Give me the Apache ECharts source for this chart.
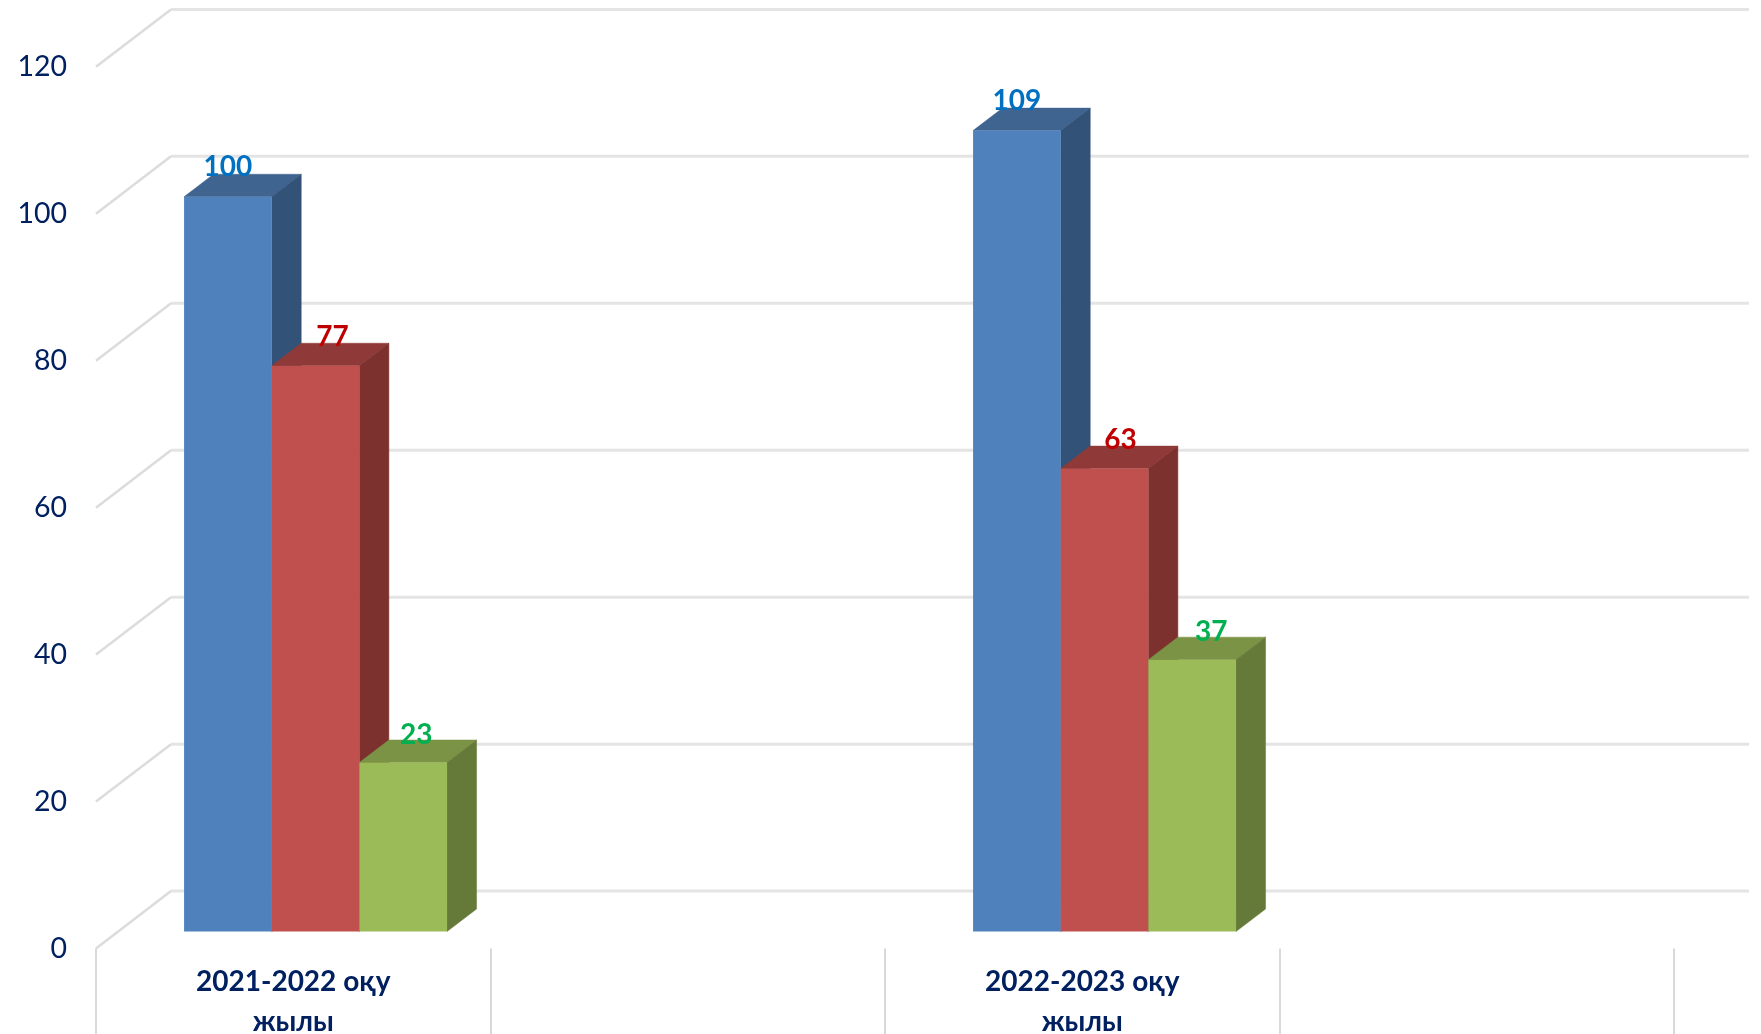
<!DOCTYPE html>
<html><head><meta charset="utf-8">
<style>html,body{margin:0;padding:0;background:#fff}#c{width:1761px;height:1034px}</style>
<script src="https://cdn.jsdelivr.net/npm/echarts@6/dist/echarts.min.js"></script>
</head><body><div id="c"></div>
<script>
const categories = ['2021-2022 оқу\nжылы', '', '2022-2023 оқу\nжылы', ''];
const tickValues = [0, 20, 40, 60, 80, 100, 120];
const seriesBlue = [100, null, 109, null];
const seriesRed = [77, null, 63, null];
const seriesGreen = [23, null, 37, null];

const FONT = 'Lato, Carlito, "Noto Sans", sans-serif';
const NAVY = '#002060';
const WALL = { dx: 75, dy: 57.4 };
const BAR = { offX: 22.3, offY: 17, dx: 29.5, dy: 22.5, widthRatio: 0.2222 };

const toRows = vals => vals.map((v, i) => [i, v]).filter(r => r[1] !== null);

function poly(points, fill) {
  return { type: 'polygon', shape: { points }, style: { fill, stroke: fill, lineWidth: 0.5 } };
}
function barSeries(name, vals, slot, colors, labelColor, labelShift, labelRise) {
  return {
    name, type: 'custom', z: 5, clip: false,
    data: toRows(vals),
    encode: { x: 0, y: 1 },
    renderItem(params, api) {
      const cat = api.value(0), val = api.value(1);
      const top = api.coord([cat, val]), base = api.coord([cat, 0]);
      const w = api.size([1, 0])[0] * BAR.widthRatio;
      const x0 = top[0] + BAR.offX + (slot - 1.5) * w, x1 = x0 + w;
      const yT = top[1] - BAR.offY, yB = base[1] - BAR.offY;
      const dx = BAR.dx, dy = BAR.dy;
      return { type: 'group', children: [
        poly([[x0, yT], [x1, yT], [x1 + dx, yT - dy], [x0 + dx, yT - dy]], colors.top),
        poly([[x1, yT], [x1 + dx, yT - dy], [x1 + dx, yB - dy], [x1, yB]], colors.side),
        { type: 'rect', shape: { x: x0, y: yT, width: w, height: yB - yT }, style: { fill: colors.front } },
        { type: 'text', z2: 50, style: {
            x: (x0 + x1) / 2 + labelShift[params.dataIndex], y: yT - labelRise, text: String(val),
            fill: labelColor, font: 'bold 28px ' + FONT, align: 'center', verticalAlign: 'middle' } }
      ]};
    }
  };
}

const chart = echarts.init(document.getElementById('c'), null, { renderer: 'canvas' });
chart.setOption({
  animation: false,
  backgroundColor: '#ffffff',
  grid: { left: 96, right: 87, top: 66.8, bottom: 85.5, containLabel: false, outerBoundsMode: 'none' },
  xAxis: {
    type: 'category', data: categories, boundaryGap: true,
    axisLine: { show: false },
    axisTick: { show: true, length: 86, lineStyle: { color: '#d9d9d9', width: 2 } },
    axisLabel: { interval: 0, margin: 13, color: NAVY, fontFamily: FONT, fontWeight: 'bold', fontSize: 28, lineHeight: 40 }
  },
  yAxis: {
    type: 'value', min: 0, max: 120, interval: 20,
    axisLine: { show: false }, axisTick: { show: false }, splitLine: { show: false },
    axisLabel: { margin: 29, color: NAVY, fontFamily: FONT, fontSize: 28.5, padding: [5, 0, 0, 0] }
  },
  series: [
    {
      name: 'walls', type: 'custom', z: 1, clip: false,
      data: tickValues.map(v => [0, v]),
      encode: { x: 0, y: 1 },
      renderItem(params, api) {
        const y = api.coord([0, api.value(1)])[1];
        const left = params.coordSys.x, right = left + params.coordSys.width;
        return { type: 'group', children: [
          { type: 'line', shape: { x1: left, y1: y, x2: left + WALL.dx, y2: y - WALL.dy },
            style: { stroke: '#dcdcdc', lineWidth: 2.5 } },
          { type: 'line', shape: { x1: left + WALL.dx, y1: y - WALL.dy, x2: right + WALL.dx, y2: y - WALL.dy },
            style: { stroke: '#e4e4e4', lineWidth: 3 } }
        ]};
      }
    },
    barSeries('Blue', seriesBlue, 0, { front: '#4f81bd', top: '#3f6490', side: '#325277' }, '#0070c0', [0, 0], 30),
    barSeries('Red', seriesRed, 1, { front: '#c0504d', top: '#8f3a38', side: '#7d312f' }, '#c00000', [17, 16], 29),
    barSeries('Green', seriesGreen, 2, { front: '#9bbb59', top: '#7a9344', side: '#657a38' }, '#00b050', [13, 19], 27.5)
  ]
});
</script></body></html>
